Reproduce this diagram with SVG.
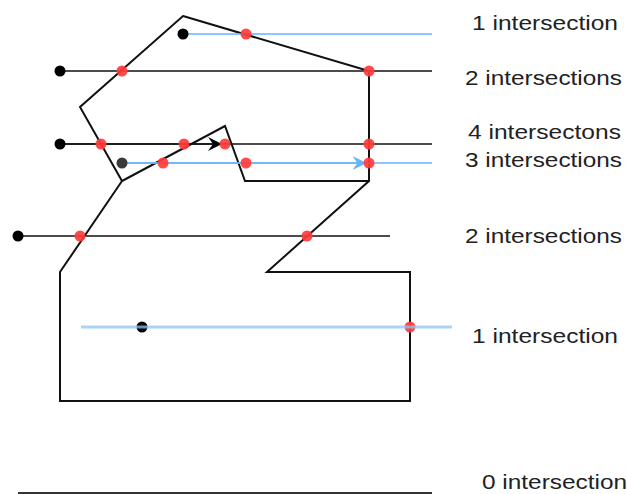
<svg xmlns="http://www.w3.org/2000/svg" width="627" height="494" viewBox="0 0 627 494">
  <style>
    .shape { fill: none; stroke: #111; stroke-width: 2; stroke-linejoin: miter; }
    .ray { fill: none; stroke: #111; stroke-width: 1.6; }
    .ray-blue { fill: none; stroke: #66b2ff; stroke-width: 1.6; }
    .ray-soft { fill: none; stroke: #8ec4fb; stroke-width: 3; opacity: 0.75; }
    .start { fill: #000; }
    .start-grey { fill: #3a3a3a; }
    .hit { fill: #ff3b3b; opacity: 0.92; }
    .label { font-family: "Liberation Sans", Arial, sans-serif; font-size: 21px; fill: #222; }
  </style>
  <defs>
    <marker id="arrow-black" viewBox="0 0 14 14" refX="13.5" refY="7" markerWidth="14" markerHeight="14" markerUnits="userSpaceOnUse" orient="auto">
      <path d="M0,0 L14,7 L0,14 L5,7 Z" fill="#000"/>
    </marker>
    <marker id="arrow-blue" viewBox="0 0 14 14" refX="13.5" refY="7" markerWidth="14" markerHeight="14" markerUnits="userSpaceOnUse" orient="auto">
      <path d="M0,0 L14,7 L0,14 L5,7 Z" fill="#66b2ff"/>
    </marker>
  </defs>

  <!-- the test polygon -->
  <g id="polygon">
    <path class="shape" d="M183,16 L369,71 L369,181 L267,272 L410,272 L410,401 L60,401 L60,272 L122,181 L80,107 Z"/>
    <path class="shape" d="M369,181 L245,181 L225,126 L122,181"/>
  </g>

  <!-- rays cast from each test point -->
  <g id="rays">
    <line class="ray-blue" x1="183" y1="34" x2="432" y2="34"/>
    <line class="ray" x1="60" y1="71" x2="432" y2="71"/>
    <line class="ray" x1="60" y1="144" x2="432" y2="144"/>
    <line class="ray" x1="60" y1="144" x2="221.5" y2="144" marker-end="url(#arrow-black)"/>
    <line class="ray-blue" x1="122" y1="163" x2="432" y2="163"/>
    <line class="ray-blue" x1="122" y1="163" x2="366" y2="163" marker-end="url(#arrow-blue)"/>
    <line class="ray" x1="18" y1="236" x2="390" y2="236"/>
    <line x1="18" y1="493" x2="432" y2="493" stroke="#333" stroke-width="2"/>
  </g>

  <!-- test points -->
  <g id="points">
    <circle class="start" cx="183" cy="34" r="5.5"/>
    <circle class="start" cx="60" cy="71" r="5.5"/>
    <circle class="start" cx="60" cy="144" r="5.5"/>
    <circle class="start-grey" cx="122" cy="163" r="5.5"/>
    <circle class="start" cx="18" cy="236" r="5.5"/>
    <circle class="start" cx="142" cy="327" r="5.5"/>
  </g>

  <!-- crossings -->
  <g id="crossings">
    <circle class="hit" cx="246" cy="34" r="5.5"/>
    <circle class="hit" cx="122" cy="71" r="5.5"/>
    <circle class="hit" cx="369" cy="71" r="5.5"/>
    <circle class="hit" cx="101" cy="144" r="5.5"/>
    <circle class="hit" cx="184" cy="144" r="5.5"/>
    <circle class="hit" cx="225" cy="144" r="5.5"/>
    <circle class="hit" cx="369" cy="144" r="5.5"/>
    <circle class="hit" cx="163" cy="163" r="5.5"/>
    <circle class="hit" cx="246" cy="163" r="5.5"/>
    <circle class="hit" cx="369" cy="163" r="5.5"/>
    <circle class="hit" cx="80" cy="236" r="5.5"/>
    <circle class="hit" cx="307" cy="236" r="5.5"/>
    <circle class="hit" cx="410" cy="327" r="5.5"/>
  </g>

  <!-- soft ray drawn over its point -->
  <g id="ray-soft">
    <line class="ray-soft" x1="81" y1="327" x2="452" y2="327"/>
  </g>

  <!-- counts -->
  <g id="labels">
    <text class="label" x="472" y="30" textLength="146" lengthAdjust="spacingAndGlyphs">1 intersection</text>
    <text class="label" x="465" y="85" textLength="157" lengthAdjust="spacingAndGlyphs">2 intersections</text>
    <text class="label" x="468" y="139" textLength="153" lengthAdjust="spacingAndGlyphs">4 intersectons</text>
    <text class="label" x="465" y="167" textLength="157" lengthAdjust="spacingAndGlyphs">3 intersections</text>
    <text class="label" x="465" y="243" textLength="157" lengthAdjust="spacingAndGlyphs">2 intersections</text>
    <text class="label" x="472" y="343" textLength="146" lengthAdjust="spacingAndGlyphs">1 intersection</text>
    <text class="label" x="482" y="489" textLength="145" lengthAdjust="spacingAndGlyphs">0 intersection</text>
  </g>
</svg>
